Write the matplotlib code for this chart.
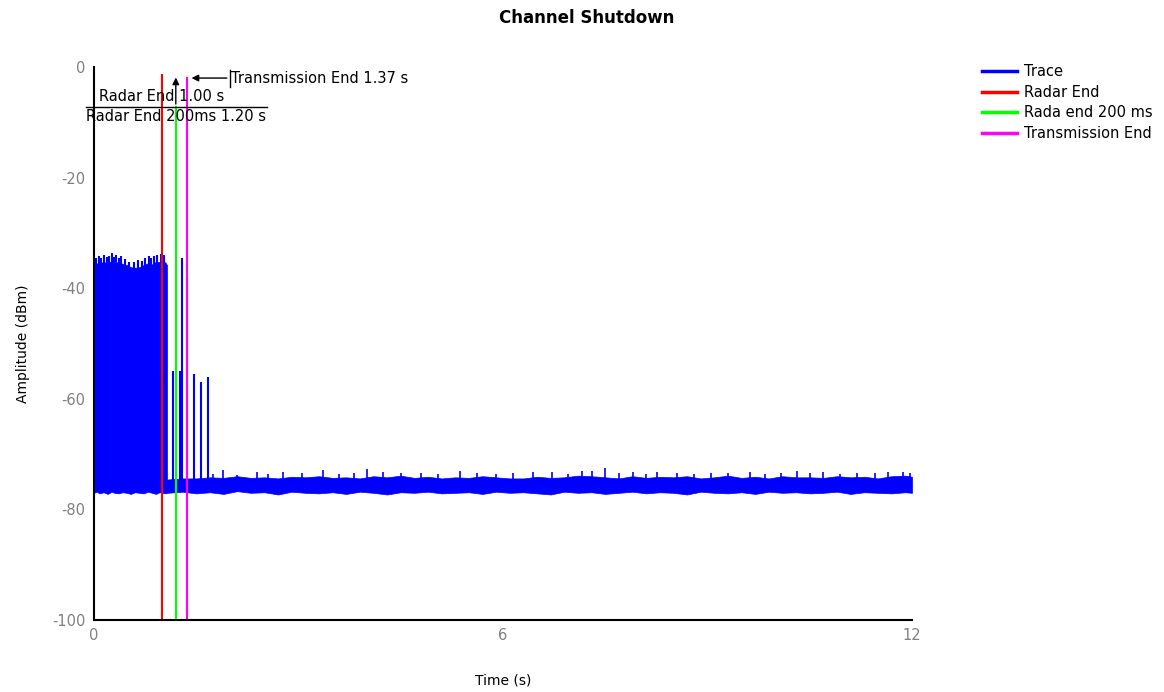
import numpy as np
import matplotlib.pyplot as plt
from matplotlib.lines import Line2D

# dense burst region (radar on): upper edge of the trace, dBm
burst_t = [0.00, 0.04, 0.08, 0.14, 0.20, 0.26, 0.30, 0.36, 0.42, 0.48, 0.54,
           0.60, 0.67, 0.73, 0.79, 0.85, 0.91, 0.96, 1.01, 1.05, 1.07]
burst_top = [-35.8, -35.5, -35.6, -35.2, -35.6, -35.0, -35.4, -35.3, -35.6, -35.8, -36.2,
             -36.3, -36.2, -35.8, -35.5, -35.7, -35.2, -35.3, -35.1, -35.4, -35.8]
burst_bot = [-77.0, -76.8, -77.1, -76.9, -77.2, -76.8, -77.0, -77.1, -76.9, -77.0, -77.2,
             -76.9, -77.0, -77.1, -76.8, -77.0, -77.2, -76.9, -77.0, -77.1, -77.0]
# narrow peaks on the burst's top edge
burst_pk_t = [0.03, 0.07, 0.11, 0.15, 0.19, 0.22, 0.26, 0.29, 0.33, 0.36, 0.40,
              0.45, 0.52, 0.58, 0.64, 0.71, 0.75, 0.80, 0.84, 0.88, 0.93, 0.98, 1.03]
burst_pk_top = [-34.5, -34.2, -34.6, -34.0, -34.3, -34.1, -33.6, -34.4, -34.0, -34.6, -34.2,
                -34.8, -35.2, -35.3, -34.9, -35.0, -34.5, -34.2, -34.6, -34.1, -34.0, -33.8,
                -34.0]

# noise floor after shutdown
floor_t = [1.07, 1.3, 1.5, 1.7, 1.9, 2.1, 2.3, 2.5, 2.7, 2.9, 3.1, 3.3, 3.5, 3.7, 3.9,
           4.1, 4.3, 4.5, 4.7, 4.9, 5.1, 5.3, 5.5, 5.7, 5.9, 6.1, 6.3, 6.5, 6.7, 6.9,
           7.1, 7.3, 7.5, 7.7, 7.9, 8.1, 8.3, 8.5, 8.7, 8.9, 9.1, 9.3, 9.5, 9.7, 9.9,
           10.1, 10.3, 10.5, 10.7, 10.9, 11.1, 11.3, 11.5, 11.7, 11.9, 12.0]
floor_top = [-74.6, -74.4, -74.4, -74.2, -74.3, -74.0, -74.3, -74.2, -74.4, -74.1, -74.2,
             -74.0, -74.3, -74.2, -74.4, -74.0, -74.2, -73.9, -74.3, -74.1, -74.4, -74.2,
             -74.3, -74.0, -74.2, -74.4, -74.4, -74.1, -74.3, -74.2, -73.9, -74.0, -74.2,
             -74.4, -74.0, -74.3, -74.1, -74.2, -74.0, -74.4, -74.2, -73.9, -74.3, -74.1,
             -74.4, -74.0, -74.2, -74.2, -74.3, -74.0, -74.2, -74.1, -74.4, -74.0, -73.9,
             -74.1]
floor_bot = [-77.0, -76.8, -77.1, -76.9, -77.2, -76.7, -77.0, -76.9, -77.3, -76.8, -77.0,
             -77.1, -76.9, -77.2, -76.8, -77.0, -77.3, -76.9, -77.0, -76.8, -77.1, -77.0,
             -76.9, -77.2, -76.8, -77.0, -76.9, -77.1, -77.3, -76.8, -77.0, -76.9, -77.2,
             -77.0, -76.8, -77.1, -76.9, -77.0, -77.3, -76.8, -77.0, -77.1, -76.9, -77.2,
             -76.8, -77.0, -76.9, -77.1, -77.0, -76.8, -77.2, -76.9, -77.0, -77.1, -76.9,
             -77.0]
# small noise peaks above the floor
floor_pk_t = [1.75, 1.89, 2.10, 2.39, 2.55, 2.77, 3.05, 3.36, 3.60, 3.82, 4.00, 4.24,
              4.50, 4.80, 5.05, 5.37, 5.62, 5.90, 6.15, 6.44, 6.72, 6.95, 7.16, 7.31,
              7.49, 7.70, 7.91, 8.10, 8.26, 8.55, 8.80, 9.05, 9.30, 9.63, 9.85, 10.08,
              10.32, 10.50, 10.70, 10.95, 11.20, 11.45, 11.65, 11.87, 11.97]
floor_pk_top = [-73.6, -72.9, -73.7, -73.2, -73.6, -73.2, -73.5, -72.9, -73.6, -73.4, -72.7,
                -73.2, -73.5, -73.4, -73.6, -73.0, -73.5, -73.6, -73.4, -73.3, -73.3, -73.6,
                -73.1, -73.0, -72.6, -73.5, -73.2, -73.6, -73.2, -73.5, -73.6, -73.4, -73.5,
                -73.2, -73.6, -73.4, -73.1, -73.5, -73.3, -73.6, -73.4, -73.5, -73.3, -73.2,
                -73.4]

# isolated pulses after radar end
spike_t = [1.16, 1.26, 1.29, 1.37, 1.46, 1.57, 1.67]
spike_top = [-55.0, -55.0, -34.5, -38.0, -55.5, -57.0, -56.0]

# event markers
radar_end = 1.00
radar_end_200 = 1.20
tx_end = 1.37

BLUE = '#0000ff'
RED = '#ff0000'
GREEN = '#00ff00'
MAGENTA = '#ff00ff'

plt.rcParams['font.family'] = ['DejaVu Sans']
plt.rcParams['axes.unicode_minus'] = False

fig = plt.figure(figsize=(11.64, 6.92), dpi=100)
ax = fig.add_axes([94 / 1164, 1 - 620 / 692, 818 / 1164, 553 / 692])

ax.fill_between(burst_t, burst_bot, burst_top, color=BLUE, lw=0.5)
ax.fill_between(floor_t, floor_bot, floor_top, color=BLUE, lw=0.5)
ax.vlines(burst_pk_t, -40, burst_pk_top, color=BLUE, lw=1.5)
ax.vlines(floor_pk_t, -75, floor_pk_top, color=BLUE, lw=1.2)
ax.vlines(spike_t, -75, spike_top, color=BLUE, lw=1.5)

ax.plot([radar_end, radar_end], [-1.4, -100], color=RED, lw=1.5)
ax.plot([radar_end_200, radar_end_200], [-7.2, -100], color=GREEN, lw=1.5)
ax.plot([tx_end, tx_end], [-2.0, -100], color=MAGENTA, lw=1.5)

# annotations
ax.plot([-0.12, 2.54], [-7.2, -7.2], color='black', lw=1, clip_on=False)
ax.text(-0.12, -7.6, 'Radar End 200ms 1.20 s', fontsize=10.5, va='top', ha='left')
ax.text(0.07, -5.3, 'Radar End 1.00 s', fontsize=10.5, va='center', ha='left')
ax.annotate('', xy=(radar_end_200, -1.4), xytext=(radar_end_200, -7.2),
            arrowprops=dict(arrowstyle='-|>', color='black', lw=1, mutation_scale=10),
            annotation_clip=False)
ax.annotate('', xy=(tx_end + 0.02, -2.0), xytext=(1.99, -2.0),
            arrowprops=dict(arrowstyle='-|>', color='black', lw=1, mutation_scale=10),
            annotation_clip=False)
ax.plot([1.99, 1.99], [-0.5, -3.6], color='black', lw=1, clip_on=False)
ax.text(2.01, -2.0, 'Transmission End 1.37 s', fontsize=10.5, va='center', ha='left')

ax.set_xlim(0, 12)
ax.set_ylim(-100, 0)
ax.set_xticks([0, 6, 12])
ax.set_yticks([0, -20, -40, -60, -80, -100])
ax.tick_params(length=0, colors='#808080', labelsize=10.5, pad=6)
ax.spines['top'].set_visible(False)
ax.spines['right'].set_visible(False)
ax.spines['left'].set_linewidth(1.5)
ax.spines['bottom'].set_linewidth(1.5)

ax.set_xlabel('Time (s)', fontsize=10, labelpad=22)
ax.set_ylabel('Amplitude (dBm)', fontsize=10, labelpad=16)
fig.text(587 / 1164, 1 - 18 / 692, 'Channel Shutdown', fontsize=12, fontweight='bold',
         ha='center', va='center')

handles = [Line2D([], [], color=c, lw=2.5) for c in (BLUE, RED, GREEN, MAGENTA)]
labels = ['Trace', 'Radar End', 'Rada end 200 ms', 'Transmission End']
fig.legend(handles, labels, loc='upper left', bbox_to_anchor=(976 / 1164, 1 - 58 / 692),
           frameon=False, fontsize=10.5, handlelength=2.4, handletextpad=0.5,
           labelspacing=0.4, borderaxespad=0)

fig.savefig('out.png', dpi=100)
